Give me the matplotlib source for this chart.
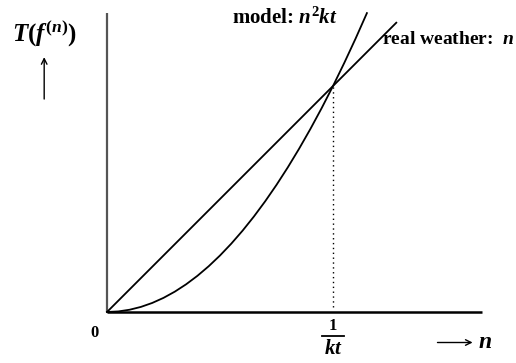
import matplotlib.pyplot as plt

# sampled points of the two growth curves (unit: 1/kt on the n axis)
n_vals = [0.0, 0.05, 0.1, 0.15, 0.2, 0.25, 0.3, 0.35, 0.4, 0.45, 0.5, 0.55, 0.6,
          0.65, 0.7, 0.75, 0.8, 0.85, 0.9, 0.95, 1.0, 1.05, 1.1, 1.15]
model_vals = [0.0, 0.0025, 0.01, 0.0225, 0.04, 0.0625, 0.09, 0.1225, 0.16, 0.2025,
              0.25, 0.3025, 0.36, 0.4225, 0.49, 0.5625, 0.64, 0.7225, 0.81, 0.9025,
              1.0, 1.1025, 1.21, 1.3225]
weather_n = [0.0, 1.28]
weather_vals = [0.0, 1.28]
cross_n = 1.0
cross_val = 1.0

plt.rcParams["font.family"] = ["Liberation Serif", "DejaVu Serif"]
plt.rcParams["mathtext.fontset"] = "custom"
plt.rcParams["mathtext.rm"] = "Liberation Serif:bold"
plt.rcParams["mathtext.it"] = "Liberation Serif:italic:bold"
plt.rcParams["mathtext.bf"] = "Liberation Serif:bold"

fig = plt.figure(figsize=(5.16, 3.63), dpi=100)
ax = fig.add_axes([0, 0, 1, 1])
ax.set_xlim(-0.4735, 1.8097)
ax.set_ylim(-0.2257, 1.3805)
ax.axis("off")

# axes
ax.plot([0, 0], [0, 1.323], color="#555555", lw=1.6, solid_capstyle="butt")
ax.plot([0, 1.659], [0, 0], color="black", lw=1.8, solid_capstyle="butt")

# curves
ax.plot(weather_n, weather_vals, color="black", lw=1.3)
ax.plot(n_vals, model_vals, color="black", lw=1.3)
ax.plot([cross_n, cross_n], [0.02, cross_val], color="black", lw=1.0, ls=(0, (1, 2.5)))

bold = dict(fontweight="bold", color="black")
ax.text(-0.42, 1.235, r"$T(f^{(n)})$", fontsize=18, va="center", ha="left", **bold)
ax.annotate("", xy=(-0.278, 1.14), xytext=(-0.278, 0.93),
            arrowprops=dict(arrowstyle="->", color="black", lw=1.0))

ax.text(0.555, 1.30, r"model: $n^2kt$", fontsize=15, va="center", ha="left", **bold)
ax.text(1.215, 1.205, r"real weather:  $n$", fontsize=14, va="center", ha="left", **bold)

ax.text(-0.055, -0.095, "0", fontsize=12, va="center", ha="center", **bold)
ax.text(cross_n, -0.06, "1", fontsize=12, va="center", ha="center", **bold)
ax.plot([0.95, 1.05], [-0.108, -0.108], color="black", lw=1.3)
ax.text(cross_n, -0.165, r"$kt$", fontsize=15, va="center", ha="center", **bold)

ax.annotate("", xy=(1.63, -0.135), xytext=(1.45, -0.135),
            arrowprops=dict(arrowstyle="->", color="black", lw=1.0))
ax.text(1.64, -0.135, r"$n$", fontsize=17, va="center", ha="left", **bold)

fig.savefig("out.png", dpi=100)
